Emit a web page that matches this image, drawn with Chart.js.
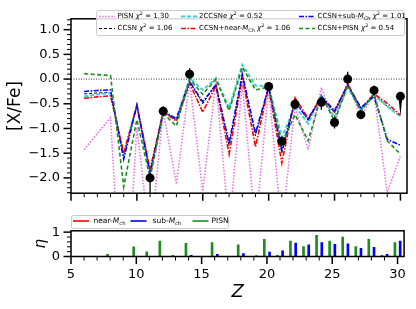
<!DOCTYPE html>
<html>
<head>
<meta charset="utf-8">
<script src="https://cdn.jsdelivr.net/npm/chart.js@4.4.0/dist/chart.umd.min.js"></script>
<style>
    html, body { margin: 0; padding: 0; background: #fff; }
    #wrap { position: relative; width: 416px; height: 309px; }
    canvas { position: absolute; left: 0; }
    #abundChart { top: 0; }
    #etaChart { top: 212px; }
</style>
</head>
<body>
<div id="wrap">
    <canvas id="abundChart" width="416" height="212"></canvas>
    <canvas id="etaChart" width="416" height="97"></canvas>
</div>
<script>
// model abundance patterns, Z = 6..30
const zModel   = [6, 7, 8, 9, 10, 11, 12, 13, 14, 15, 16, 17, 18, 19, 20, 21, 22, 23, 24, 25, 26, 27, 28, 29, 30];
const pisn     = [-1.43, -1.10, -0.78, -5.40, -0.97, -3.30, -0.65, -2.13, -0.05, -2.27, -0.05, -3.00, -0.10, -3.00, -0.20, -3.00, -0.55, -1.43, -0.17, -0.90, -0.05, -0.78, -0.28, -2.30, -1.55];
const ccsn     = [-0.30, -0.28, -0.27, -1.56, -0.53, -1.88, -0.66, -0.83, -0.05, -0.50, -0.10, -1.35, 0.08, -1.15, -0.16, -1.50, -0.45, -0.83, -0.35, -0.68, -0.13, -0.60, -0.32, -0.55, -0.76];
const twoCcsn  = [-0.35, -0.31, -0.28, -1.55, -0.53, -1.90, -0.66, -0.82, 0.02, -0.22, 0.01, -0.58, 0.29, -0.13, -0.15, -1.18, -0.55, -0.90, -0.33, -0.77, -0.17, -0.63, -0.32, -0.55, -0.76];
const nearMch  = [-0.39, -0.36, -0.34, -1.50, -0.53, -1.83, -0.67, -0.85, -0.08, -0.67, -0.13, -1.52, 0.03, -1.37, -0.16, -1.70, -0.38, -0.79, -0.37, -0.67, -0.10, -0.60, -0.30, -0.49, -0.73];
const subMch   = [-0.25, -0.23, -0.22, -1.62, -0.53, -1.92, -0.66, -0.80, -0.05, -0.46, -0.12, -1.30, 0.10, -1.10, -0.16, -1.43, -0.45, -0.82, -0.35, -0.64, -0.12, -0.58, -0.35, -1.22, -1.34];
const ccsnPisn = [0.11, 0.09, 0.07, -2.18, -0.82, -2.00, -0.70, -0.95, 0.00, -0.31, 0.00, -0.64, 0.24, -0.22, -0.16, -1.30, -0.72, -1.25, -0.33, -0.85, -0.13, -0.65, -0.30, -1.25, -1.52];

// observed star
const zObs    = [11, 12, 14, 20, 21, 22, 24, 25, 26, 27, 28, 30];
const xfeObs  = [-2.00, -0.65, 0.10, -0.15, -1.26, -0.51, -0.47, -0.88, 0.00, -0.72, -0.23, -0.35];
const errLow  = [0.40, 0.10, 0.10, 0.08, 0.10, 0.10, 0.15, 0.12, 0.10, 0.08, 0.10, 0.00];
const errHigh = [0.10, 0.10, 0.12, 0.08, 0.10, 0.10, 0.10, 0.12, 0.15, 0.08, 0.10, 0.00];
const upperLim = [false, false, false, false, false, false, false, false, false, false, false, true];

// legend labels
const modelNames = ["PISN", "CCSN", "2CCSNe", "CCSN+near-M_Ch", "CCSN+sub-M_Ch", "CCSN+PISN"];
const chi2Vals   = [1.30, 1.06, 0.52, 1.06, 1.01, 0.54];

// eta fractions
const zEtaPisn = [8, 10, 11, 12, 13, 14, 16, 18, 20, 21, 22, 23, 24, 25, 26, 27, 28, 29, 30];
const etaPisn  = [0.09, 0.40, 0.19, 0.63, 0.05, 0.54, 0.57, 0.48, 0.70, 0.05, 0.63, 0.41, 0.87, 0.63, 0.80, 0.41, 0.70, 0.05, 0.57];
const zEtaSub  = [14, 16, 18, 19, 20, 21, 22, 23, 24, 25, 26, 27, 28, 29, 30];
const etaSub   = [0.05, 0.09, 0.12, 0.03, 0.18, 0.23, 0.55, 0.48, 0.57, 0.50, 0.52, 0.34, 0.38, 0.09, 0.63];
const zEtaNear = [];
const etaNear  = [];
const etaNames = ["near-M_ch", "sub-M_ch", "PISN"];

// ticks
const xTicks     = [5, 10, 15, 20, 25, 30];
const yTicksMain = [-2.0, -1.5, -1.0, -0.5, 0.0, 0.5, 1.0];
const yTicksEta  = [0, 1];

Chart.defaults.font.family = "DejaVu Sans";
Chart.defaults.color = "#000";

const toXY = (xs, ys, shift) => xs.map((x, i) => ({ x: x + (shift || 0), y: ys[i] }));
const minus = s => s.replace("-", "\u2212");

const styles = {
    "PISN":           { color: "#e46ee4", dash: [1.5, 1.6], width: 1.5 },
    "CCSN":           { color: "#000000", dash: [3, 2], width: 1 },
    "2CCSNe":         { color: "#3dd3d3", dash: [4, 2], width: 2 },
    "CCSN+near-M_Ch": { color: "#ff0000", dash: [5, 1.5, 1.5, 1.5], width: 1.6 },
    "CCSN+sub-M_Ch":  { color: "#0000ff", dash: [5, 1.5, 1.5, 1.5], width: 1.6 },
    "CCSN+PISN":      { color: "#1e8c1e", dash: [4, 2.5], width: 1.6 }
};

function modelSet(name, values) {
    const st = styles[name];
    return {
        label: name,
        data: toXY(zModel, values),
        borderColor: st.color,
        borderDash: st.dash,
        borderWidth: st.width,
        pointRadius: 0,
        fill: false
    };
}

function richParts(name) {
    if (name.includes("_")) {
        const [head, sub] = name.split("_");
        return [{ t: head.slice(0, -1) }, { t: head.slice(-1), it: true }, { t: sub, sub: true }];
    }
    return [{ t: name }];
}

function drawRich(ctx, x, y, parts, size) {
    ctx.textBaseline = "middle";
    ctx.textAlign = "left";
    parts.forEach(p => {
        let fs = size, dy = 0;
        if (p.sub) { fs = size * 0.7; dy = size * 0.3; }
        if (p.sup) { fs = size * 0.7; dy = -size * 0.35; }
        ctx.font = (p.it ? "italic " : "") + fs + "px 'DejaVu Sans'";
        ctx.fillText(p.t, x, y + dy);
        x += ctx.measureText(p.t).width;
    });
}

function legendBox(ctx, x, y, w, h) {
    ctx.save();
    ctx.fillStyle = "rgba(255,255,255,0.85)";
    ctx.strokeStyle = "#cccccc";
    ctx.lineWidth = 1;
    ctx.beginPath();
    ctx.roundRect(x + 0.5, y + 0.5, w, h, 2);
    ctx.fill();
    ctx.stroke();
    ctx.restore();
}

function sample(ctx, x1, x2, y, color, dash, width) {
    ctx.save();
    ctx.strokeStyle = color;
    ctx.lineWidth = width;
    ctx.setLineDash(dash);
    ctx.beginPath();
    ctx.moveTo(x1, y);
    ctx.lineTo(x2, y);
    ctx.stroke();
    ctx.restore();
}

// frame + outward ticks (major and minor)
const frameTicks = {
    id: "frameTicks",
    afterDraw(chart, args, o) {
        const { ctx, chartArea: a, scales: { x, y } } = chart;
        ctx.save();
        ctx.strokeStyle = "#000";
        const tick = (x1, y1, x2, y2, w) => {
            ctx.lineWidth = w;
            ctx.beginPath();
            ctx.moveTo(x1, y1);
            ctx.lineTo(x2, y2);
            ctx.stroke();
        };
        for (let v = 5; v <= 30.001; v += 1) {
            const p = x.getPixelForValue(v);
            const major = Math.abs(v % 5) < 1e-6;
            tick(p, a.bottom, p, a.bottom + (major ? 7.5 : 4), major ? 1.5 : 1);
        }
        const start = Math.ceil(y.min / o.yMinor - 1e-6);
        for (let k = start; k * o.yMinor <= y.max + 1e-6; k++) {
            const v = k * o.yMinor;
            const p = y.getPixelForValue(v);
            const major = Math.abs(v / o.yMajor - Math.round(v / o.yMajor)) < 1e-6;
            tick(a.left, p, a.left - (major ? 7.5 : 4), p, major ? 1.5 : 1);
        }
        ctx.lineWidth = 1.5;
        ctx.strokeRect(a.left, a.top, a.right - a.left, a.bottom - a.top);
        ctx.restore();
    }
};

const zeroLine = {
    id: "zeroLine",
    beforeDatasetsDraw(chart) {
        const { ctx, chartArea: a, scales: { y } } = chart;
        const p = y.getPixelForValue(0);
        ctx.save();
        ctx.strokeStyle = "#000";
        ctx.lineWidth = 0.8;
        ctx.setLineDash([1, 1.5]);
        ctx.beginPath();
        ctx.moveTo(a.left, p);
        ctx.lineTo(a.right, p);
        ctx.stroke();
        ctx.restore();
    }
};

const errorBars = {
    id: "errorBars",
    afterDatasetsDraw(chart) {
        const { ctx, chartArea: a, scales: { x, y } } = chart;
        ctx.save();
        ctx.beginPath();
        ctx.rect(a.left, a.top, a.right - a.left, a.bottom - a.top);
        ctx.clip();
        ctx.strokeStyle = "#000";
        ctx.fillStyle = "#000";
        ctx.lineWidth = 1.3;
        zObs.forEach((z, i) => {
            const px = x.getPixelForValue(z);
            if (upperLim[i]) {
                const top = y.getPixelForValue(xfeObs[i]);
                const bot = y.getPixelForValue(xfeObs[i] - 0.4);
                ctx.beginPath();
                ctx.moveTo(px - 2, top);
                ctx.lineTo(px + 2, top);
                ctx.lineTo(px, bot);
                ctx.closePath();
                ctx.fill();
                return;
            }
            const top = y.getPixelForValue(xfeObs[i] + errHigh[i]);
            const bot = y.getPixelForValue(xfeObs[i] - errLow[i]);
            ctx.beginPath();
            ctx.moveTo(px, top);
            ctx.lineTo(px, bot);
            ctx.stroke();
        });
        ctx.restore();
    }
};

const modelLegend = {
    id: "modelLegend",
    afterDraw(chart) {
        const ctx = chart.ctx;
        legendBox(ctx, 96, 10, 308, 25);
        const cols = [[99, 117.5], [181, 199], [299, 317.5]];
        const rows = [16.5, 28.5];
        modelNames.forEach((name, i) => {
            const c = cols[Math.floor(i / 2)], r = rows[i % 2];
            const st = styles[name];
            sample(ctx, c[0], c[0] + 16, r, st.color, st.dash, st.width);
            ctx.fillStyle = "#000";
            const parts = richParts(name).concat([
                { t: " " }, { t: "\u03c7", it: true }, { t: "2", sup: true },
                { t: " = " + chi2Vals[i].toFixed(2) }
            ]);
            drawRich(ctx, c[1], r, parts, 7);
        });
    }
};

const etaLegend = {
    id: "etaLegend",
    afterDraw(chart) {
        const ctx = chart.ctx;
        legendBox(ctx, 71, 3, 157, 13);
        const colors = ["#ff0000", "#0000ff", "#1e8c1e"];
        const cols = [[73, 93.5], [130.5, 152.5], [192.5, 211.5]];
        etaNames.forEach((name, i) => {
            sample(ctx, cols[i][0], cols[i][0] + 16, 9, colors[i], [], 1.6);
            ctx.fillStyle = "#000";
            drawRich(ctx, cols[i][1], 9, richParts(name), 7.5);
        });
    }
};

new Chart(document.getElementById("abundChart"), {
    type: "line",
    data: {
        datasets: [
            {
                label: "observed",
                data: toXY(zObs, xfeObs),
                showLine: false,
                pointRadius: 4.5,
                pointBackgroundColor: "#000",
                pointBorderColor: "#000",
                pointBorderWidth: 0
            },
            modelSet("CCSN+PISN", ccsnPisn),
            modelSet("CCSN+sub-M_Ch", subMch),
            modelSet("CCSN+near-M_Ch", nearMch),
            modelSet("2CCSNe", twoCcsn),
            modelSet("CCSN", ccsn),
            modelSet("PISN", pisn)
        ]
    },
    options: {
        responsive: false,
        animation: false,
        layout: { padding: { left: 0, right: 9, top: 6, bottom: 0 } },
        plugins: {
            legend: { display: false },
            tooltip: { enabled: false },
            frameTicks: { yMajor: 0.5, yMinor: 0.1 }
        },
        elements: { line: { tension: 0 } },
        scales: {
            x: {
                type: "linear",
                min: 5,
                max: 30.5,
                grid: { display: false, drawTicks: false },
                border: { display: false },
                ticks: { display: false },
                afterFit: s => { s.height = 11; }
            },
            y: {
                min: -2.31,
                max: 1.22,
                grid: { display: false, drawTicks: false },
                border: { display: false },
                afterBuildTicks: s => { s.ticks = yTicksMain.map(v => ({ value: v })); },
                ticks: {
                    padding: 11,
                    font: { size: 13 },
                    callback: v => minus(Number(v).toFixed(1))
                },
                title: {
                    display: true,
                    text: "[X/Fe]",
                    font: { size: 17 },
                    padding: { top: 5, bottom: 0 }
                },
                afterFit: s => { s.width = 71; }
            }
        }
    },
    plugins: [zeroLine, errorBars, frameTicks, modelLegend]
});

new Chart(document.getElementById("etaChart"), {
    type: "bar",
    data: {
        datasets: [
            { label: "near-M_ch", data: toXY(zEtaNear, etaNear), backgroundColor: "#ff0000" },
            { label: "sub-M_ch", data: toXY(zEtaSub, etaSub, 0.2), backgroundColor: "#0000ff" },
            { label: "PISN", data: toXY(zEtaPisn, etaPisn, -0.2), backgroundColor: "#1e8c1e" }
        ]
    },
    options: {
        responsive: false,
        animation: false,
        layout: { padding: { left: 0, right: 9, top: 12, bottom: 0 } },
        datasets: { bar: { barThickness: 2, grouped: false, borderWidth: 0 } },
        plugins: {
            legend: { display: false },
            tooltip: { enabled: false },
            frameTicks: { yMajor: 1, yMinor: 0.2 }
        },
        scales: {
            x: {
                type: "linear",
                min: 5,
                max: 30.5,
                offset: false,
                grid: { display: false, drawTicks: false },
                border: { display: false },
                afterBuildTicks: s => { s.ticks = xTicks.map(v => ({ value: v })); },
                ticks: { padding: 10, font: { size: 13 }, maxRotation: 0 },
                title: {
                    display: true,
                    text: "Z",
                    font: { size: 18, style: "italic" },
                    padding: { top: 0, bottom: 6 }
                },
                afterFit: s => { s.height = 52.5; }
            },
            y: {
                min: 0,
                max: 1.055,
                grid: { display: false, drawTicks: false },
                border: { display: false },
                afterBuildTicks: s => { s.ticks = yTicksEta.map(v => ({ value: v })); },
                ticks: { padding: 11, font: { size: 13 } },
                title: {
                    display: true,
                    text: "\u03b7",
                    font: { size: 15, style: "italic" },
                    padding: { top: 32, bottom: 0 }
                },
                afterFit: s => { s.width = 71; }
            }
        }
    },
    plugins: [frameTicks, etaLegend]
});
</script>
</body>
</html>
